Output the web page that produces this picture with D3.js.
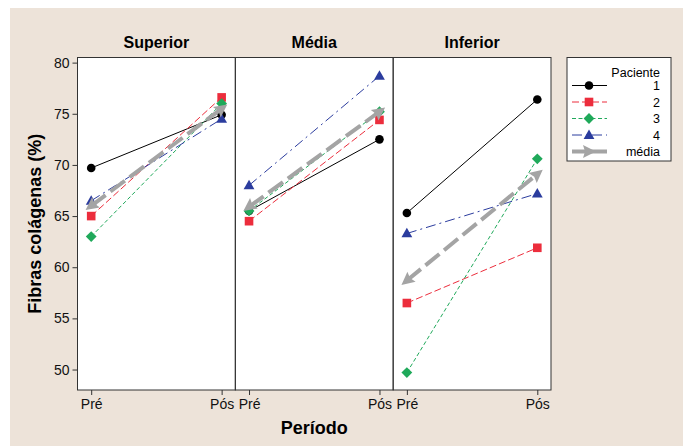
<!DOCTYPE html>
<html>
<head>
<meta charset="utf-8">
<script src="https://cdn.jsdelivr.net/npm/d3@7"></script>
<style>
  body { margin: 0; background: #fff; }
  text { font-family: "Liberation Sans", Arial, sans-serif; }
</style>
</head>
<body>
<div id="chart"></div>
<script>
// panels and periods
let regions = ["Superior", "Média", "Inferior"]
let periods = ["Pré", "Pós"]
let yTicks = [50, 55, 60, 65, 70, 75, 80]

// values per region: [Pré, Pós]
let paciente1 = [[69.7, 74.9], [65.5, 72.5], [65.3, 76.4]]
let paciente2 = [[65.0, 76.6], [64.5, 74.4], [56.5, 61.9]]
let paciente3 = [[63.0, 76.0], [65.5, 75.2], [49.7, 70.6]]
let paciente4 = [[66.5, 74.5], [68.0, 78.7], [63.3, 67.2]]
let media = [[66.0, 75.5], [65.9, 75.2], [58.7, 69.1]]

let seriesNames = ["1", "2", "3", "4", "média"]
let seriesValues = [paciente1, paciente2, paciente3, paciente4, media]

let styles = {
    "1": { color: "#000000", dash: null, width: 1, symbol: "circle" },
    "2": { color: "#ec2d3c", dash: "7,3", width: 1, symbol: "square" },
    "3": { color: "#1fa95a", dash: "4,2.5", width: 1, symbol: "diamond" },
    "4": { color: "#2b3c9e", dash: "10,4,2,4", width: 1, symbol: "triangle" },
    "média": { color: "#a4a4a4", dash: "18,6", width: 4, symbol: "arrow" }
}

let W = 683, H = 446
let plot = { left: 77.5, right: 551, top: 57.5, bottom: 390 }

let svg = d3.select("#chart")
    .append("svg")
    .attr("width", W)
    .attr("height", H)

// beige background
svg.append("rect")
    .attr("x", 10).attr("y", 8)
    .attr("width", W - 10).attr("height", H - 8)
    .attr("fill", "#ede3d9")

// scales
let panel = d3.scaleBand()
    .domain(regions)
    .range([plot.left, plot.right])
    .paddingInner(0)

let x = d3.scalePoint()
    .domain(periods)
    .range([0, panel.bandwidth()])
    .padding(0.105)

let y = d3.scaleLinear()
    .domain([48.0, 80.5])
    .range([plot.bottom, plot.top])

// white plotting area
svg.append("rect")
    .attr("x", plot.left).attr("y", plot.top)
    .attr("width", plot.right - plot.left).attr("height", plot.bottom - plot.top)
    .attr("fill", "#fff")

// y axis
let yAxis = svg.append("g")
    .attr("transform", "translate(" + plot.left + ",0)")
    .call(d3.axisLeft(y).tickValues(yTicks).tickSize(5).tickPadding(3))
yAxis.select(".domain").remove()
yAxis.selectAll(".tick line").attr("stroke", "#333")
yAxis.selectAll("text").style("font-size", "14px").attr("fill", "#111")

// panels
regions.forEach((reg, ri) => {
    let g = svg.append("g")
        .attr("transform", "translate(" + panel(reg) + ",0)")

    let xa = g.append("g")
        .attr("transform", "translate(0," + plot.bottom + ")")
        .call(d3.axisBottom(x).tickSize(5).tickPadding(4))
    xa.select(".domain").remove()
    xa.selectAll(".tick line").attr("stroke", "#333")
    xa.selectAll("text").style("font-size", "14px").attr("fill", "#111")

    g.append("text")
        .attr("x", panel.bandwidth() / 2)
        .attr("y", 48)
        .attr("text-anchor", "middle")
        .style("font-size", "16px")
        .style("font-weight", "bold")
        .text(reg)

    seriesNames.forEach((name, si) => {
        let st = styles[name]
        let vals = seriesValues[si][ri]
        let pts = periods.map((p, i) => [x(p), y(vals[i])])

        g.append("path")
            .attr("d", d3.line()(pts))
            .attr("fill", "none")
            .attr("stroke", st.color)
            .attr("stroke-width", st.width)
            .attr("stroke-dasharray", st.dash)

        pts.forEach((pt, i) => {
            let other = pts[1 - i]
            let ang = Math.atan2(pt[1] - other[1], pt[0] - other[0]) * 180 / Math.PI
            drawSymbol(g, st, pt[0], pt[1], ang)
        })
    })

    g.append("rect")
        .attr("x", 0).attr("y", plot.top)
        .attr("width", panel.bandwidth()).attr("height", plot.bottom - plot.top)
        .attr("fill", "none")
        .attr("stroke", "#333")
        .attr("stroke-width", 1)
})

function drawSymbol(g, st, cx, cy, ang) {
    let s
    if (st.symbol == "circle") {
        s = g.append("circle").attr("r", 4.3)
    } else if (st.symbol == "square") {
        s = g.append("rect").attr("x", -4.3).attr("y", -4.3).attr("width", 8.6).attr("height", 8.6)
    } else if (st.symbol == "diamond") {
        s = g.append("path").attr("d", "M0,-5.4L5.4,0L0,5.4L-5.4,0Z")
    } else if (st.symbol == "triangle") {
        s = g.append("path").attr("d", "M0,-5.6L5.4,3.9L-5.4,3.9Z")
    } else {
        s = g.append("path").attr("d", "M7,0L-6,-6.5L-4,0L-6,6.5Z")
    }
    let tr = "translate(" + cx + "," + cy + ")"
    if (st.symbol == "arrow") tr += " rotate(" + ang + ")"
    s.attr("transform", tr).attr("fill", st.color)
}

// axis titles
svg.append("text")
    .attr("transform", "translate(41," + ((plot.top + plot.bottom) / 2) + ") rotate(-90)")
    .attr("text-anchor", "middle")
    .style("font-size", "18px")
    .style("font-weight", "bold")
    .text("Fibras colágenas (%)")

svg.append("text")
    .attr("x", (plot.left + plot.right) / 2)
    .attr("y", 434)
    .attr("text-anchor", "middle")
    .style("font-size", "18px")
    .style("font-weight", "bold")
    .text("Período")

// legend
let lg = svg.append("g").attr("transform", "translate(567,57.5)")
lg.append("rect")
    .attr("width", 104).attr("height", 103.5)
    .attr("fill", "#fff")
    .attr("stroke", "#333")
lg.append("text")
    .attr("x", 93).attr("y", 19)
    .attr("text-anchor", "end")
    .style("font-size", "12.5px")
    .text("Paciente")

seriesNames.forEach((name, i) => {
    let st = styles[name]
    let yy = 28 + i * 16.5
    lg.append("line")
        .attr("x1", 5).attr("x2", 40)
        .attr("y1", yy).attr("y2", yy)
        .attr("stroke", st.color)
        .attr("stroke-width", st.width)
        .attr("stroke-dasharray", name == "média" ? null : st.dash)
    drawSymbol(lg, st, 22, yy, 0)
    lg.append("text")
        .attr("x", 93).attr("y", yy + 4.5)
        .attr("text-anchor", "end")
        .style("font-size", "12.5px")
        .text(name)
})
</script>
</body>
</html>
